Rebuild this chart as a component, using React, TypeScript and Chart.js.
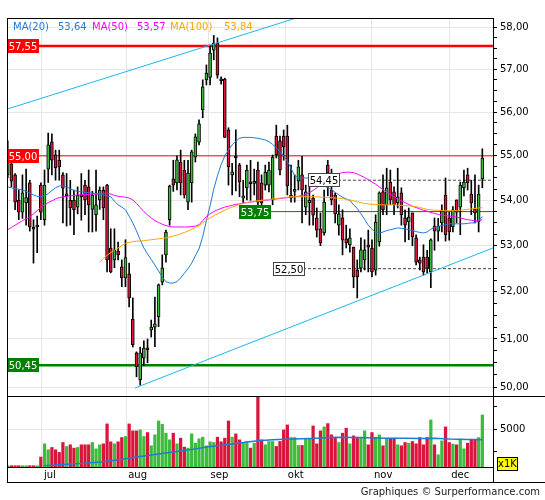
import React, { useEffect, useRef } from "react";
import { Chart, registerables } from "chart.js";

Chart.register(...registerables);

const FONT = "'DejaVu Sans', Verdana, sans-serif";

// ---- daily candles (index 0 = first session shown) ----
const opens = [
  54.57, 54.82, 54.57, 54.0, 53.74, 53.95, 54.39, 53.39, 53.41, 54.34,
  53.57, 54.7, 55.32, 55.02, 54.9, 54.57, 54.1, 54.0, 54.0, 53.85,
  54.12, 54.34, 54.3, 53.8, 53.68, 54.01, 54.23, 54.34, 52.95, 52.69,
  52.88, 52.54, 52.3, 52.39, 51.42, 50.71, 50.15, 50.6, 50.81, 51.19,
  51.25, 51.47, 52.21, 52.8, 53.57, 54.48, 54.39, 54.86, 54.68, 53.96,
  54.39, 54.97, 55.31, 56.05, 56.75, 56.81, 57.45, 57.62, 56.76, 56.77,
  55.59, 54.57, 54.97, 54.79, 54.05, 54.28, 54.39, 54.38, 54.68, 54.39,
  54.34, 54.34, 54.01, 55.45, 55.34, 55.45, 55.45, 54.05, 54.2, 54.43,
  54.57, 53.85, 53.95, 54.05, 53.61, 53.37, 53.28, 54.79, 54.23, 54.12,
  53.45, 53.61, 53.15, 53.02, 52.97, 52.47, 52.51, 52.69, 53.02, 52.95,
  52.47, 53.08, 54.19, 53.9, 54.41, 54.19, 53.94, 54.17, 53.61, 53.52,
  53.72, 53.17, 52.69, 52.75, 52.75, 52.43, 53.43, 53.32, 53.5, 54.12,
  53.61, 53.41, 54.01, 53.85, 54.28, 54.57, 54.14, 53.81, 53.52, 54.48,
];
const highs = [
  55.34, 54.93, 54.6, 54.23, 54.57, 54.7, 54.45, 53.57, 53.65, 54.39,
  54.68, 55.52, 55.5, 55.13, 55.13, 54.62, 54.6, 54.45, 54.23, 54.3,
  54.6, 54.45, 54.68, 54.2, 54.68, 54.3, 54.3, 54.36, 53.37, 53.37,
  53.08, 52.69, 53.13, 52.62, 51.87, 50.73, 50.83, 50.96, 51.0, 51.4,
  51.89, 52.17, 52.8, 53.34, 54.34, 54.9, 55.0, 55.13, 54.9, 54.9,
  55.13, 55.5, 55.82, 56.75, 57.1, 57.57, 57.8, 57.74, 56.82, 56.79,
  55.64, 54.83, 55.59, 54.83, 54.45, 54.79, 54.9, 54.7, 54.86, 54.57,
  54.79, 54.86, 55.02, 55.7, 55.45, 55.59, 55.7, 54.79, 54.57, 54.9,
  54.99, 54.34, 54.57, 54.12, 53.83, 53.72, 54.23, 54.9, 54.7, 54.16,
  53.9, 53.79, 53.45, 53.37, 52.97, 52.69, 53.17, 53.13, 53.34, 53.13,
  53.68, 54.19, 54.57, 54.72, 54.68, 54.3, 54.72, 54.28, 53.79, 53.83,
  53.72, 53.24, 52.75, 53.02, 52.9, 53.15, 53.61, 53.6, 53.9, 54.5,
  53.74, 53.86, 54.01, 54.41, 54.68, 54.72, 54.45, 54.57, 54.34, 55.16,
];
const lows = [
  54.5, 54.3, 53.79, 53.57, 53.6, 53.45, 53.32, 52.62, 52.85, 53.57,
  53.45, 54.4, 54.57, 54.45, 54.45, 53.5, 53.43, 53.45, 53.24, 53.7,
  53.56, 53.68, 53.3, 53.3, 53.32, 53.8, 53.57, 52.43, 52.41, 52.52,
  52.69, 52.11, 52.11, 51.68, 50.83, 50.21, 50.04, 50.44, 50.5, 51.04,
  50.84, 51.26, 52.15, 52.64, 53.45, 54.2, 54.23, 54.12, 54.05, 53.79,
  53.96, 54.86, 55.25, 55.87, 56.63, 56.63, 57.22, 56.79, 56.65, 55.42,
  54.34, 54.12, 54.21, 54.08, 53.95, 54.01, 54.0, 54.12, 53.9, 53.79,
  54.23, 54.19, 53.9, 54.95, 54.57, 54.9, 54.12, 53.96, 53.96, 54.23,
  53.5, 53.68, 53.45, 53.45, 53.19, 53.0, 53.23, 54.1, 53.9, 53.5,
  53.23, 52.8, 52.95, 52.86, 52.09, 51.87, 52.43, 52.47, 52.43, 52.32,
  52.36, 52.99, 53.68, 53.68, 53.9, 53.68, 53.83, 53.45, 53.08, 53.13,
  53.0, 52.58, 52.47, 52.36, 52.4, 52.09, 52.9, 53.1, 53.3, 53.1,
  53.12, 53.3, 53.5, 53.24, 54.1, 54.23, 53.68, 53.5, 53.3, 54.28,
];
const closes = [
  54.93, 54.43, 53.96, 53.74, 54.17, 54.06, 53.41, 53.36, 53.44, 53.74,
  54.34, 55.25, 54.9, 54.73, 54.75, 54.27, 54.12, 53.83, 53.79, 54.12,
  54.08, 54.01, 53.9, 54.12, 53.9, 54.23, 53.83, 52.69, 52.43, 52.91,
  52.8, 52.3, 52.74, 51.87, 50.88, 50.42, 50.71, 50.81, 50.77, 51.25,
  51.32, 52.15, 52.52, 53.3, 54.32, 54.34, 54.91, 54.39, 54.12, 54.61,
  55.09, 55.43, 55.73, 56.59, 56.91, 57.38, 57.62, 56.86, 56.73, 55.42,
  54.75, 54.64, 54.95, 54.41, 54.1, 54.68, 54.37, 54.4, 53.96, 53.94,
  54.63, 54.68, 54.97, 55.02, 54.68, 55.2, 54.32, 54.12, 54.23, 54.75,
  54.23, 54.19, 54.0, 53.67, 53.34, 53.06, 53.96, 54.61, 54.01, 53.7,
  53.7, 53.12, 53.06, 53.17, 52.32, 52.32, 52.91, 52.91, 52.97, 52.43,
  53.52, 54.17, 53.79, 54.28, 54.01, 53.9, 54.08, 53.68, 53.45, 53.63,
  53.19, 52.64, 52.62, 52.43, 52.51, 53.13, 53.32, 53.43, 53.76, 53.24,
  53.3, 53.79, 53.74, 54.34, 54.41, 54.39, 53.94, 53.72, 54.14, 54.95,
];

// ---- volume (thousands of shares, x1K) ----
const volumes = [
  170, 170, 170, 170, 170, 170, 170, 170, 170, 1316,
  3071, 2281, 2588, 2281, 1930, 3246, 2720, 2939, 2500, 2588,
  2939, 2939, 2939, 3246, 2413, 2939, 3071, 5703, 3334, 3071,
  3334, 3904, 4036, 5703, 4782, 4782, 4913, 4036, 4562, 2808,
  4255, 6098, 5659, 4475, 3597, 4475, 3071, 3817, 2632, 2500,
  4387, 3159, 3729, 3948, 2808, 3334, 3246, 3948, 3334, 3817,
  6098, 3948, 4387, 3597, 3159, 3334, 2500, 3159, 9400, 3597,
  2939, 3378, 3378, 2720, 3378, 4913, 5571, 3904, 3904, 2852,
  2852, 3685, 3685, 5440, 3071, 4782, 5308, 5747, 4255, 3817,
  3246, 4475, 5133, 3071, 4124, 3948, 3948, 4782, 2939, 4562,
  3948, 4255, 2808, 3685, 3685, 3817, 2939, 2808, 3246, 3159,
  3378, 3071, 3904, 2939, 3904, 6230, 2939, 1623, 3466, 5308,
  3246, 3027, 2939, 3685, 2413, 3159, 3685, 3685, 3904, 6888,
];
const volMaIdx = [10, 15, 20, 26, 31, 36, 41, 46, 51, 55, 60, 64, 68, 72, 75, 80, 84, 89, 95, 100, 103, 108, 112, 116, 120, 125, 129];
const volMaVal = [171, 330, 480, 697, 1020, 1395, 1720, 2053, 2400, 2711, 2980, 3237, 3461, 3600, 3685, 3750, 3816, 3948, 3900, 3850, 3816, 3790, 3764, 3800, 3700, 3650, 3593];

// ---- moving averages ----
const ma20 = [
  54.3, 54.28, 54.26, 54.25, 54.23, 54.2, 54.16, 54.12, 54.09, 54.08,
  54.1, 54.15, 54.22, 54.28, 54.32, 54.32, 54.3, 54.26, 54.22, 54.2,
  54.19, 54.18, 54.17, 54.16, 54.15, 54.14, 54.12, 54.1, 54.08, 53.98,
  53.9, 53.85, 53.79, 53.65, 53.5, 53.32, 53.13, 52.95, 52.82, 52.7,
  52.58, 52.45, 52.32, 52.22, 52.19, 52.19, 52.22, 52.3, 52.4, 52.5,
  52.62, 52.78, 52.93, 53.2, 53.55, 53.88, 54.25, 54.55, 54.8, 55.0,
  55.13, 55.25, 55.33, 55.4, 55.42, 55.42, 55.42, 55.41, 55.4, 55.38,
  55.36, 55.32, 55.26, 55.18, 55.1, 55.0, 54.88, 54.72, 54.55, 54.5,
  54.5, 54.5, 54.5, 54.45, 54.4, 54.36, 54.32, 54.28, 54.24, 54.18,
  54.12, 54.07, 54.03, 54.0, 53.9, 53.82, 53.7, 53.58, 53.45, 53.36,
  53.3, 53.27, 53.3, 53.33, 53.35, 53.37, 53.39, 53.38, 53.37, 53.35,
  53.33, 53.31, 53.29, 53.28, 53.3, 53.36, 53.4, 53.42, 53.44, 53.46,
  53.48, 53.48, 53.48, 53.48, 53.48, 53.49, 53.5, 53.5, 53.55, 53.64,
];
const ma50 = [
  53.35, 53.4, 53.45, 53.5, 53.55, 53.59, 53.63, 53.7, 53.77, 53.84,
  53.9, 53.95, 53.99, 54.03, 54.06, 54.08, 54.09, 54.1, 54.11, 54.12,
  54.12, 54.13, 54.13, 54.14, 54.14, 54.15, 54.16, 54.16, 54.14, 54.11,
  54.09, 54.08, 54.07, 54.05, 54.01, 53.93, 53.84, 53.75, 53.68, 53.61,
  53.55, 53.51, 53.47, 53.44, 53.42, 53.41, 53.41, 53.41, 53.41, 53.41,
  53.42, 53.43, 53.46, 53.55, 53.64, 53.7, 53.75, 53.79, 53.82, 53.85,
  53.87, 53.89, 53.91, 53.92, 53.94, 53.95, 53.96, 53.97, 53.98, 53.99,
  54.0, 54.01, 54.02, 54.03, 54.04, 54.05, 54.06, 54.07, 54.08, 54.09,
  54.11, 54.13, 54.17, 54.22, 54.28, 54.34, 54.41, 54.48, 54.55, 54.58,
  54.6, 54.62, 54.63, 54.63, 54.62, 54.59, 54.55, 54.51, 54.46, 54.41,
  54.36, 54.3, 54.24, 54.18, 54.13, 54.08, 54.03, 53.99, 53.95, 53.91,
  53.87, 53.84, 53.81, 53.78, 53.76, 53.73, 53.71, 53.69, 53.67, 53.66,
  53.65, 53.64, 53.63, 53.61, 53.59, 53.57, 53.56, 53.54, 53.55, 53.57,
];
const ma100 = [
  null, null, null, null, null, null, null, null, null, null,
  null, null, null, null, null, null, null, null, null, null,
  null, null, null, null, null, 52.64, 52.72, 52.79, 52.85, 52.9,
  52.95, 53.0, 53.05, 53.07, 53.09, 53.1, 53.1, 53.11, 53.12, 53.13,
  53.14, 53.15, 53.16, 53.17, 53.19, 53.21, 53.23, 53.26, 53.29, 53.32,
  53.36, 53.4, 53.44, 53.5, 53.56, 53.61, 53.66, 53.7, 53.74, 53.78,
  53.82, 53.85, 53.88, 53.91, 53.93, 53.95, 53.97, 53.98, 53.99, 54.0,
  54.01, 54.02, 54.03, 54.04, 54.05, 54.06, 54.07, 54.08, 54.08, 54.08,
  54.08, 54.08, 54.08, 54.08, 54.08, 54.07, 54.07, 54.06, 54.06, 54.05,
  54.05, 54.04, 54.02, 54.01, 53.99, 53.97, 53.95, 53.93, 53.92, 53.91,
  53.91, 53.9, 53.9, 53.9, 53.9, 53.9, 53.89, 53.89, 53.88, 53.88,
  53.87, 53.86, 53.84, 53.82, 53.8, 53.79, 53.78, 53.78, 53.77, 53.77,
  53.77, 53.77, 53.77, 53.78, 53.79, 53.8, 53.81, 53.82, 53.83, 53.84,
];

// ---- channel trend lines [index, price] ----
const upperTrendIdx = [-0.2, 80];
const upperTrendVal = [56.07, 58.26];
const lowerTrendIdx = [34.6, 131.9];
const lowerTrendVal = [49.98, 52.95];

// ---- horizontal levels ----
const levelValues = [57.55, 55.0, 50.45, 53.75, 54.45, 52.5];
const levelLabels = ["57,55", "55,00", "50,45", "53,75", "54,45", "52,50"];
const levelStartIdx = [-0.2, -0.2, -0.2, 62.9, 81.6, 72.1];

// ---- axes ----
const monthTickIdx = [9.3, 32.2, 54.6, 75.6, 99, 120];
const monthLabels = ["jul", "aug", "sep", "okt", "nov", "dec"];
const priceTicks = [50, 51, 52, 53, 54, 55, 56, 57, 58];
const volumeTicks = [2000, 5000, 8000];
const volumeLabelTicks = [5000];

const legendTexts = ["MA(20)", "53,64", "MA(50)", "53,57", "MA(100)", "53,84"];

const UP = "#3dbb3d";
const DOWN = "#dc143c";
const BLUE = "#1f7ad4";
const MAGENTA = "#ff00ff";
const ORANGE = "#ffa500";
const CYAN = "#1ab8f0";
const GRID = "#e6e6e6";

const X_MIN = -0.2;
const X_MAX = 131.9;

const LEVEL_STYLE = [
  { line: "#ff0000", width: 2.5, dash: [] as number[], box: "#ff0000", edge: "", text: "#ffffff" },
  { line: "#ff0000", width: 1, dash: [] as number[], box: "#ff0000", edge: "", text: "#ffffff" },
  { line: "#008000", width: 2.5, dash: [] as number[], box: "#008000", edge: "", text: "#ffffff" },
  { line: "#008000", width: 1, dash: [] as number[], box: "#008000", edge: "", text: "#ffffff" },
  { line: "#444444", width: 1, dash: [3, 2], box: "#ffffff", edge: "#444444", text: "#000000" },
  { line: "#444444", width: 1, dash: [3, 2], box: "#ffffff", edge: "#444444", text: "#000000" },
];
const LEGEND_X = [13, 58, 92, 137, 170, 224];
const LEGEND_COLORS = [BLUE, BLUE, MAGENTA, MAGENTA, ORANGE, ORANGE];

const decorPlugin = {
  id: "decor",
  afterDatasetsDraw(chart: any) {
    const { ctx, scales } = chart;
    const xs = scales.x;
    const ys = scales.y;
    ctx.save();
    ctx.font = `10px ${FONT}`;
    ctx.textBaseline = "middle";
    ctx.textAlign = "center";
    for (let k = 0; k < levelValues.length; k++) {
      const st = LEVEL_STYLE[k];
      const py = Math.round(ys.getPixelForValue(levelValues[k]));
      const px = Math.round(xs.getPixelForValue(levelStartIdx[k]));
      const w = 32;
      const h = 14;
      ctx.fillStyle = st.box;
      ctx.fillRect(px, py - 7, w, h);
      if (st.edge) {
        ctx.strokeStyle = st.edge;
        ctx.lineWidth = 1;
        ctx.strokeRect(px + 0.5, py - 6.5, w - 1, h - 1);
      }
      ctx.fillStyle = st.text;
      ctx.fillText(levelLabels[k], px + w / 2, py + 1);
    }
    ctx.restore();
  },
  afterDraw(chart: any) {
    const { ctx, chartArea: ca, scales } = chart;
    const W = chart.width;
    const sep = Math.round(scales.yv.top);
    const xAxisBottom = Math.round(scales.x.bottom);
    ctx.save();
    ctx.strokeStyle = "#000";
    ctx.lineWidth = 1;
    ctx.beginPath();
    // left frame
    ctx.moveTo(ca.left + 0.5, ca.top);
    ctx.lineTo(ca.left + 0.5, xAxisBottom + 1);
    // top frame
    ctx.moveTo(ca.left, ca.top + 0.5);
    ctx.lineTo(ca.right + 1, ca.top + 0.5);
    // separator between price and volume
    ctx.moveTo(ca.left, sep + 0.5);
    ctx.lineTo(W, sep + 0.5);
    // bottom frame
    ctx.moveTo(ca.left, xAxisBottom + 0.5);
    ctx.lineTo(W, xAxisBottom + 0.5);
    // axis line through the label strip
    ctx.moveTo(Math.round(ca.right) + 0.5, ca.bottom);
    ctx.lineTo(Math.round(ca.right) + 0.5, xAxisBottom + 1);
    ctx.stroke();

    // legend
    ctx.font = `10px ${FONT}`;
    ctx.textBaseline = "middle";
    ctx.textAlign = "left";
    for (let k = 0; k < legendTexts.length; k++) {
      ctx.fillStyle = LEGEND_COLORS[k];
      ctx.fillText(legendTexts[k], LEGEND_X[k], ca.top + 9);
    }

    // x1K badge
    const bx = Math.round(ca.right) + 4;
    const by = Math.round(ca.bottom) - 10;
    ctx.fillStyle = "#ffff00";
    ctx.fillRect(bx, by, 21, 14);
    ctx.strokeStyle = "#000";
    ctx.strokeRect(bx + 0.5, by + 0.5, 20, 13);
    ctx.fillStyle = "#000";
    ctx.textAlign = "center";
    ctx.fillText("x1K", bx + 10.5, by + 7.5);

    // credit
    ctx.textAlign = "right";
    ctx.fillStyle = "#222";
    ctx.fillText("Graphiques \u00a9 Surperformance.com", W - 5, xAxisBottom + 10);
    ctx.restore();
  },
};

export default function App() {
  const ref = useRef<HTMLCanvasElement | null>(null);

  useEffect(() => {
    const canvas = ref.current;
    if (!canvas) return;
    const idx = closes.map((_, i) => i);
    const candleColors = idx.map((i) => (closes[i] >= opens[i] ? UP : DOWN));

    const minorPriceTicks: number[] = [];
    for (let v = priceTicks[0]; v <= priceTicks[priceTicks.length - 1] + 1e-9; v += 0.25) minorPriceTicks.push(Math.round(v * 100) / 100);
    const isMajor = (v: number) => Math.abs(v - Math.round(v)) < 1e-6;

    const line = (data: any[], color: string, width: number, order: number, yAxisID = "y", dash: number[] = []) => ({
      type: "line",
      data,
      borderColor: color,
      borderWidth: width,
      borderDash: dash,
      pointRadius: 0,
      tension: 0,
      fill: false,
      yAxisID,
      order,
    });

    const datasets: any[] = [];
    // levels (behind candles)
    levelValues.forEach((v, k) => {
      const st = LEVEL_STYLE[k];
      datasets.push(line([{ x: levelStartIdx[k], y: v }, { x: X_MAX, y: v }], st.line, st.width, 5, "y", st.dash));
    });
    // wicks
    datasets.push({
      type: "bar",
      data: idx.map((i) => ({ x: i, y: [lows[i], highs[i]] })),
      backgroundColor: "#000",
      borderWidth: 0,
      barThickness: 1,
      minBarLength: 1,
      grouped: false,
      yAxisID: "y",
      order: 3,
    });
    // bodies
    datasets.push({
      type: "bar",
      data: idx.map((i) => ({ x: i, y: [opens[i], closes[i]] })),
      backgroundColor: candleColors,
      borderColor: "#000",
      borderWidth: 1,
      borderSkipped: false,
      barThickness: 3,
      minBarLength: 2,
      grouped: false,
      yAxisID: "y",
      order: 2,
    });
    // volume
    datasets.push({
      type: "bar",
      data: idx.map((i) => ({ x: i, y: volumes[i] })),
      backgroundColor: candleColors,
      borderWidth: 0,
      barThickness: 2.6,
      grouped: false,
      yAxisID: "yv",
      order: 2,
    });
    datasets.push(line(volMaIdx.map((x, k) => ({ x, y: volMaVal[k] })), BLUE, 1.5, 0, "yv"));
    // moving averages
    datasets.push(line(idx.map((i) => ({ x: i, y: ma100[i] })), ORANGE, 1, 1));
    datasets.push(line(idx.map((i) => ({ x: i, y: ma50[i] })), MAGENTA, 1, 1));
    datasets.push(line(idx.map((i) => ({ x: i, y: ma20[i] })), BLUE, 1, 1));
    // channel
    datasets.push(line(upperTrendIdx.map((x, k) => ({ x, y: upperTrendVal[k] })), CYAN, 1, 0));
    datasets.push(line(lowerTrendIdx.map((x, k) => ({ x, y: lowerTrendVal[k] })), CYAN, 1, 0));

    const tickFont = { family: FONT, size: 10 };

    const chart = new Chart(canvas, {
      type: "bar",
      data: { datasets },
      plugins: [decorPlugin],
      options: {
        responsive: false,
        animation: false,
        devicePixelRatio: 1,
        events: [],
        layout: { padding: { left: 7, top: 18, right: 0, bottom: 18 } },
        plugins: { legend: { display: false }, tooltip: { enabled: false }, title: { display: false } },
        scales: {
          x: {
            type: "linear",
            min: X_MIN,
            max: X_MAX,
            offset: false,
            afterBuildTicks: (s: any) => {
              s.ticks = monthTickIdx.map((v) => ({ value: v }));
            },
            afterFit: (s: any) => {
              s.height = 15;
            },
            grid: { color: GRID, drawTicks: false, offset: false },
            border: { color: "#000" },
            ticks: {
              autoSkip: false,
              maxRotation: 0,
              align: "start",
              labelOffset: 2,
              padding: 2,
              color: "#000",
              font: tickFont,
              callback: (_v: any, i: number) => monthLabels[i],
            },
          },
          y: {
            type: "logarithmic",
            position: "right",
            stack: "main",
            stackWeight: 378,
            min: 49.815,
            max: 58.216,
            afterBuildTicks: (s: any) => {
              s.ticks = minorPriceTicks.map((v) => ({ value: v }));
            },
            afterFit: (s: any) => {
              s.width = 52;
            },
            grid: {
              color: (c: any) => (c.tick && isMajor(c.tick.value) ? GRID : "rgba(0,0,0,0)"),
              tickColor: "#000",
              tickLength: 4,
            },
            border: { color: "#000" },
            ticks: {
              autoSkip: false,
              padding: 3,
              color: "#000",
              font: tickFont,
              callback: (_v: any, i: number, ticks: any[]) => {
                const v = ticks[i].value;
                return isMajor(v) ? v.toFixed(2).replace(".", ",") : "";
              },
            },
          },
          yv: {
            type: "linear",
            position: "right",
            stack: "main",
            stackWeight: 71,
            min: 0,
            max: 9400,
            afterBuildTicks: (s: any) => {
              s.ticks = volumeTicks.map((v) => ({ value: v }));
            },
            afterFit: (s: any) => {
              s.width = 52;
            },
            grid: {
              color: (c: any) => (c.tick && volumeLabelTicks.includes(c.tick.value) ? GRID : "rgba(0,0,0,0)"),
              tickColor: "#000",
              tickLength: 4,
            },
            border: { color: "#000" },
            ticks: {
              autoSkip: false,
              padding: 3,
              color: "#000",
              font: tickFont,
              callback: (_v: any, i: number, ticks: any[]) => {
                const v = ticks[i].value;
                return volumeLabelTicks.includes(v) ? String(v) : "";
              },
            },
          },
        },
      } as any,
    } as any);

    return () => chart.destroy();
  }, []);

  return (
    <div style={{ position: "absolute", left: 0, top: 0, width: 545, height: 500, background: "#fff" }}>
      <canvas ref={ref} width={545} height={500} style={{ display: "block", width: 545, height: 500 }} />
    </div>
  );
}
